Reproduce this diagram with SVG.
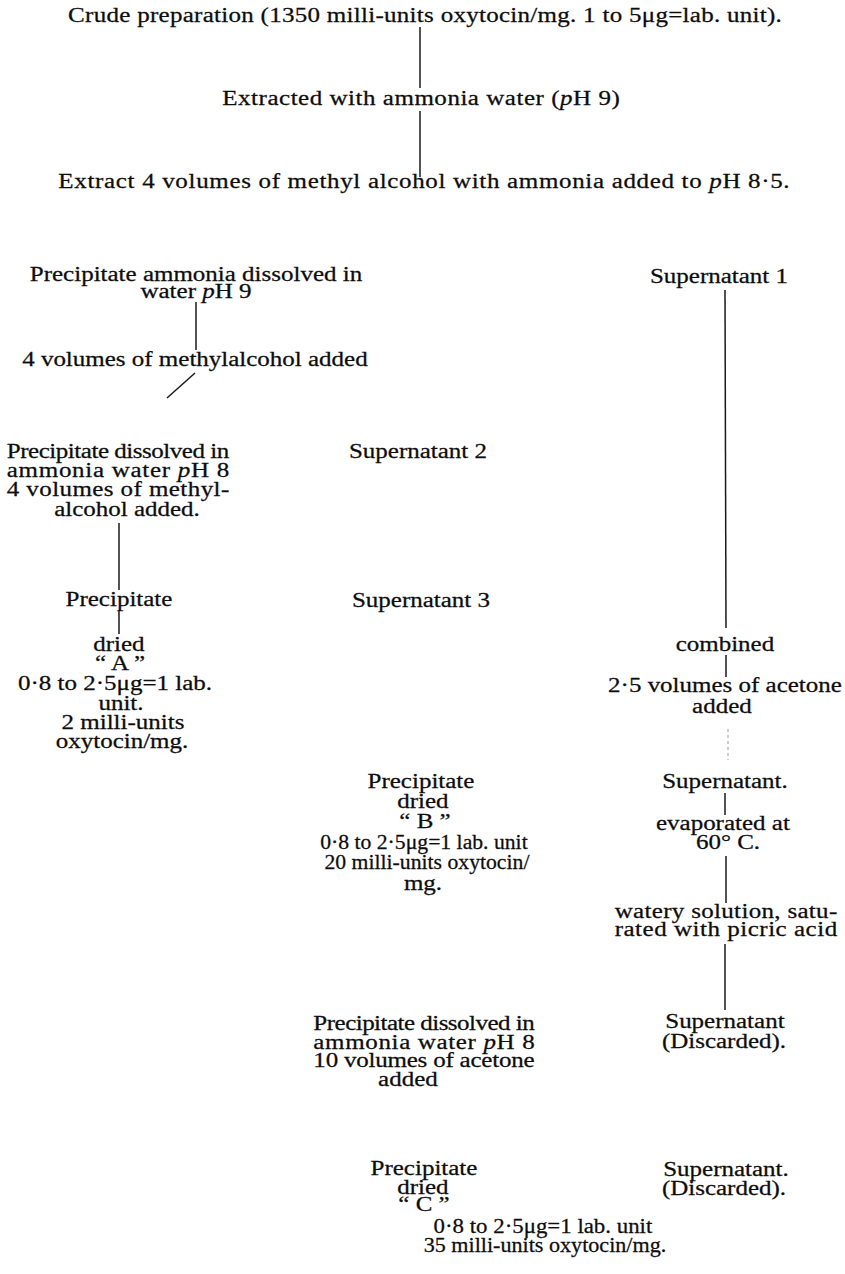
<svg xmlns="http://www.w3.org/2000/svg" width="845" height="1274" viewBox="0 0 845 1274">
<style>
.t{font-family:"Liberation Serif","Times New Roman",serif;font-size:20px;fill:#0d0d0d;stroke:#0d0d0d;stroke-width:0.25;text-anchor:middle;transform:scaleX(1.25);transform-box:fill-box;transform-origin:center}
.i{font-style:italic}
.c line{stroke:#1a1a1a;stroke-width:1.5;fill:none}
.c .f{stroke:#999;stroke-width:1;stroke-dasharray:3 3}
</style>
<rect width="845" height="1274" fill="#fff"/>
<g id="crude"><text class="t" x="425" y="22" textLength="571" lengthAdjust="spacing">Crude preparation (1350 milli-units oxytocin/mg. 1 to 5μg=lab. unit).</text></g>
<g id="extracted"><text class="t" x="421" y="105" textLength="318" lengthAdjust="spacing">Extracted with ammonia water (<tspan class="i">p</tspan>H 9)</text></g>
<g id="extract"><text class="t" x="424" y="188" textLength="585" lengthAdjust="spacing">Extract 4 volumes of methyl alcohol with ammonia added to <tspan class="i">p</tspan>H 8·5.</text></g>
<g id="precip1">
<text class="t" x="196" y="281">Precipitate ammonia dissolved in</text>
<text class="t" x="196" y="298">water <tspan class="i">p</tspan>H 9</text>
</g>
<g id="methyl1"><text class="t" x="195" y="366">4 volumes of methylalcohol added</text></g>
<g id="super1"><text class="t" x="719" y="283">Supernatant 1</text></g>
<g id="precip2">
<text class="t" x="118" y="458" textLength="178" lengthAdjust="spacing">Precipitate dissolved in</text>
<text class="t" x="118" y="477" textLength="178" lengthAdjust="spacing">ammonia water <tspan class="i">p</tspan>H 8</text>
<text class="t" x="118" y="496" textLength="178" lengthAdjust="spacing">4 volumes of methyl-</text>
<text class="t" x="127" y="516">alcohol added.</text>
</g>
<g id="super2"><text class="t" x="418" y="458">Supernatant 2</text></g>
<g id="precip3"><text class="t" x="119" y="606">Precipitate</text></g>
<g id="super3"><text class="t" x="421" y="607">Supernatant 3</text></g>
<g id="productA">
<text class="t" x="119" y="651">dried</text>
<text class="t" x="120" y="670">“ A ”</text>
<text class="t" x="115" y="690">0·8 to 2·5μg=1 lab.</text>
<text class="t" x="121" y="710">unit.</text>
<text class="t" x="123" y="729">2 milli-units</text>
<text class="t" x="122" y="748">oxytocin/mg.</text>
</g>
<g id="combined"><text class="t" x="725" y="651">combined</text></g>
<g id="acetone1">
<text class="t" x="725" y="692">2·5 volumes of acetone</text>
<text class="t" x="722" y="713">added</text>
</g>
<g id="productB">
<text class="t" x="421" y="788">Precipitate</text>
<text class="t" x="423" y="808">dried</text>
<text class="t" x="425" y="828">“ B ”</text>
<text class="t" x="424" y="849" textLength="166" lengthAdjust="spacingAndGlyphs">0·8 to 2·5μg=1 lab. unit</text>
<text class="t" x="427" y="869" textLength="164" lengthAdjust="spacingAndGlyphs">20 milli-units oxytocin/</text>
<text class="t" x="423" y="890">mg.</text>
</g>
<g id="super4"><text class="t" x="725" y="788">Supernatant.</text></g>
<g id="evaporated">
<text class="t" x="723" y="830">evaporated at</text>
<text class="t" x="728" y="849">60° C.</text>
</g>
<g id="watery">
<text class="t" x="726" y="918" textLength="178" lengthAdjust="spacing">watery solution, satu-</text>
<text class="t" x="726" y="936" textLength="178" lengthAdjust="spacing">rated with picric acid</text>
</g>
<g id="super5">
<text class="t" x="725" y="1028">Supernatant</text>
<text class="t" x="724" y="1048">(Discarded).</text>
</g>
<g id="precip4">
<text class="t" x="424" y="1030" textLength="177" lengthAdjust="spacing">Precipitate dissolved in</text>
<text class="t" x="424" y="1049" textLength="177" lengthAdjust="spacing">ammonia water <tspan class="i">p</tspan>H 8</text>
<text class="t" x="424" y="1067" textLength="177" lengthAdjust="spacing">10 volumes of acetone</text>
<text class="t" x="408" y="1086">added</text>
</g>
<g id="productC">
<text class="t" x="424" y="1175">Precipitate</text>
<text class="t" x="423" y="1194">dried</text>
<text class="t" x="424" y="1211">“ C ”</text>
<text class="t" x="543" y="1233" textLength="175" lengthAdjust="spacingAndGlyphs">0·8 to 2·5μg=1 lab. unit</text>
<text class="t" x="545" y="1252" textLength="194" lengthAdjust="spacingAndGlyphs">35 milli-units oxytocin/mg.</text>
</g>
<g id="super6">
<text class="t" x="726" y="1176">Supernatant.</text>
<text class="t" x="724" y="1195">(Discarded).</text>
</g>
<g id="connectors" class="c">
<line x1="420" y1="27" x2="420" y2="88"/>
<line x1="420" y1="111" x2="420" y2="177"/>
<line x1="196" y1="302" x2="196" y2="350"/>
<line x1="195" y1="373" x2="167" y2="398"/>
<line x1="725" y1="290" x2="726" y2="628"/>
<line x1="119" y1="523" x2="119" y2="590"/>
<line x1="119" y1="611" x2="119" y2="634"/>
<line x1="726" y1="655" x2="726" y2="677"/>
<line class="f" x1="728" y1="729" x2="728" y2="760"/>
<line x1="725" y1="793" x2="725" y2="815"/>
<line x1="726" y1="856" x2="726" y2="903"/>
<line x1="725" y1="944" x2="725" y2="1010"/>
</g>
</svg>
